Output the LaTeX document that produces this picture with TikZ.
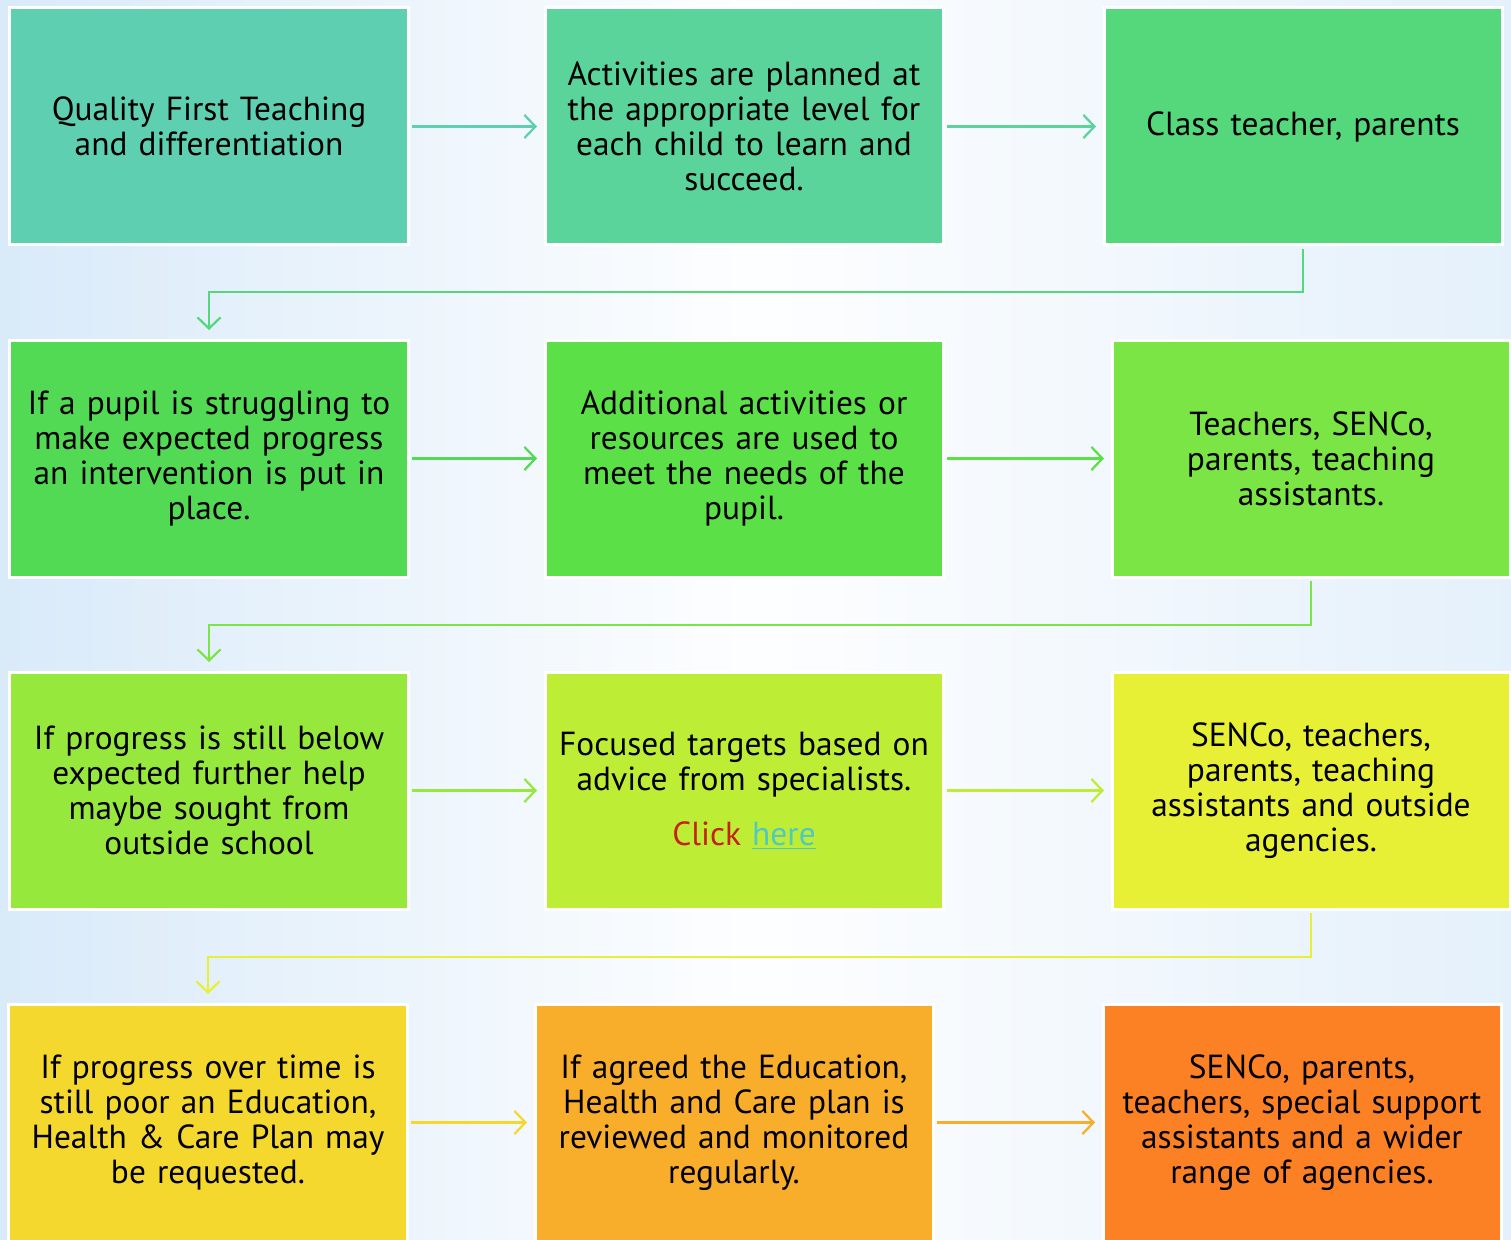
\documentclass[tikz,border=0pt]{standalone}
\usepackage{fontspec}
\setmainfont{PT Sans}
\usetikzlibrary{arrows.meta, positioning}

% box colours, top left to bottom right
\definecolor{stepA}{HTML}{5ECFB1}
\definecolor{stepB}{HTML}{5AD49A}
\definecolor{stepC}{HTML}{55D87B}
\definecolor{stepD}{HTML}{53DA55}
\definecolor{stepE}{HTML}{5CE048}
\definecolor{stepF}{HTML}{7BE545}
\definecolor{stepG}{HTML}{97E83D}
\definecolor{stepH}{HTML}{BEED36}
\definecolor{stepI}{HTML}{E7F035}
\definecolor{stepJ}{HTML}{F5D82E}
\definecolor{stepK}{HTML}{F8AE2A}
\definecolor{stepL}{HTML}{FC8125}
\definecolor{bgblue}{HTML}{D9EAF9}
\definecolor{clickred}{HTML}{C42312}
\definecolor{linkteal}{HTML}{52C8C0}

\begin{document}
\begin{tikzpicture}[
    % Set distances between nodes
    node distance=1.9cm and 2.74cm,
    % Style for the coloured boxes
    box/.style={
        rectangle,
        draw=white,
        line width=0.06cm,
        outer sep=0pt,
        fill=#1,
        text width=7.7cm,
        align=center,
        minimum width=7.96cm,
        minimum height=4.74cm,
        font=\fontsize{19}{20}\selectfont
    },
    % Style for the connecting arrows
    flow/.style={
        draw=#1,
        line width=0.045cm,
        -{Straight Barb[length=0.22cm, width=0.46cm, line width=0.045cm]},
        shorten <=0.08cm,
        shorten >=0.16cm
    }
]

% 0. Page frame and pale background
\useasboundingbox (0,0) rectangle (30.22,-24.8);
\fill[left color=bgblue, right color=bgblue!70!white, middle color=white!96!bgblue]
    (0,0) rectangle (30.22,-24.8);

% 1. Place the nodes using relative positioning
\node[box=stepA] (quality) at (4.18,-2.53) {Quality First Teaching\\ and differentiation};
\node[box=stepB, right=of quality] (planned) {Activities are planned at\\ the appropriate level for\\ each child to learn and\\ succeed.};
\node[box=stepC, right=3.22cm of planned] (class_staff) {Class teacher, parents};

\node[box=stepD, below=of quality] (struggling) {If a pupil is struggling to\\ make expected progress\\ an intervention is put in\\ place.};
\node[box=stepE, right=of struggling] (additional) {Additional activities or\\ resources are used to\\ meet the needs of the\\ pupil.};
\node[box=stepF, right=3.38cm of additional] (ta_staff) {Teachers, SENCo,\\ parents, teaching\\ assistants.};

\node[box=stepG, below=of struggling] (below_exp) {If progress is still below\\ expected further help\\ maybe sought from\\ outside school};
\node[box=stepH, right=of below_exp] (targets) {Focused targets based on\\ advice from specialists.\\[0.4cm]
    {\color{clickred}Click} {\color{linkteal}\underline{here}}};
\node[box=stepI, right=3.38cm of targets] (agency_staff) {SENCo, teachers,\\ parents, teaching\\ assistants and outside\\ agencies.};

\node[box=stepJ, below=of below_exp, xshift=-0.02cm] (ehcp_request) {If progress over time is\\ still poor an Education,\\ Health \& Care Plan may\\ be requested.};
\node[box=stepK, right=2.56cm of ehcp_request] (ehcp_review) {If agreed the Education,\\ Health and Care plan is\\ reviewed and monitored\\ regularly.};
\node[box=stepL, right=3.40cm of ehcp_review] (wider_staff) {SENCo, parents,\\ teachers, special support\\ assistants and a wider\\ range of agencies.};

% 2. Draw the arrows along each row
\draw[flow=stepA] (quality) -- (planned);
\draw[flow=stepB] (planned) -- (class_staff);
\draw[flow=stepD] (struggling) -- (additional);
\draw[flow=stepE] (additional) -- (ta_staff);
\draw[flow=stepG] (below_exp) -- (targets);
\draw[flow=stepH] (targets) -- (agency_staff);
\draw[flow=stepJ] (ehcp_request) -- (ehcp_review);
\draw[flow=stepK] (ehcp_review) -- (wider_staff);

% 3. Drop back to the start of the next row
\draw[flow=stepC, shorten >=0.2cm] (class_staff.south) -- ++(0,-0.94) -| (struggling.north);
\draw[flow=stepF, shorten >=0.2cm] (ta_staff.south) -- ++(0,-0.96) -| (below_exp.north);
\draw[flow=stepI, shorten >=0.2cm] (agency_staff.south) -- ++(0,-0.96) -| (ehcp_request.north);

\end{tikzpicture}
\end{document}
